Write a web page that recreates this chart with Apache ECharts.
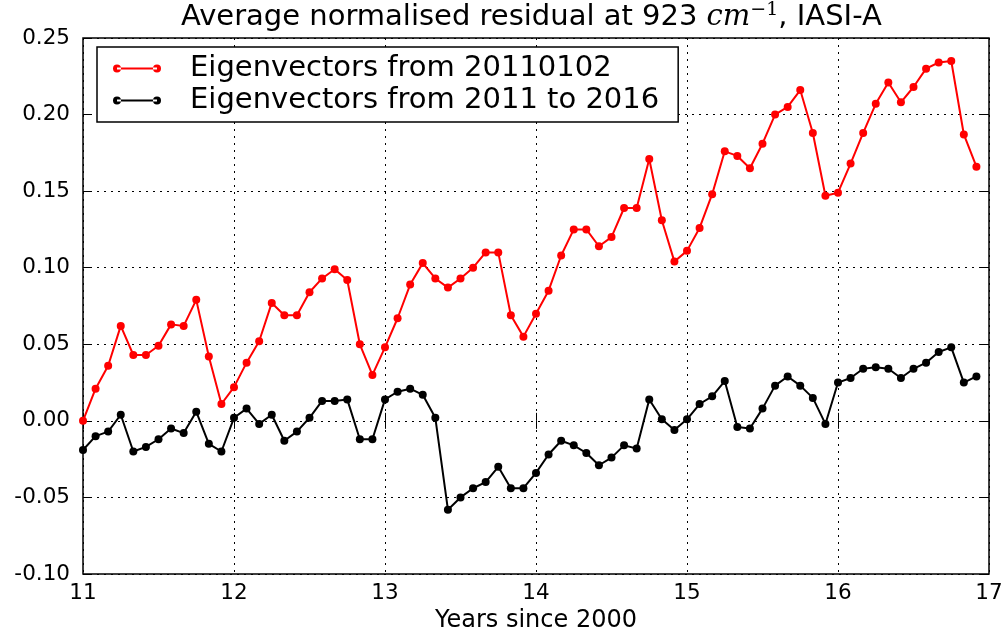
<!DOCTYPE html>
<html>
<head>
<meta charset="utf-8">
<script src="https://cdn.jsdelivr.net/npm/echarts@6/dist/echarts.min.js"></script>
<style>
  html, body { margin: 0; padding: 0; background: #fff; overflow: hidden; }
  #chart { width: 1006px; height: 627px; }
</style>
</head>
<body>
<div id="chart"></div>
<script>
// Monthly samples starting at year 11 (since 2000)
const startYear = 11;
const stepYears = 1 / 12;

const seriesNames = ['Eigenvectors from 20110102', 'Eigenvectors from 2011 to 2016'];

// Residual using eigenvectors from 20110102
const redValues = [
  0.000, 0.021, 0.036, 0.062, 0.043, 0.043, 0.049, 0.063, 0.062, 0.079, 0.042, 0.011,
  0.022, 0.038, 0.052, 0.077, 0.069, 0.069, 0.084, 0.093, 0.099, 0.092, 0.050, 0.030,
  0.048, 0.067, 0.089, 0.103, 0.093, 0.087, 0.093, 0.100, 0.110, 0.110, 0.069, 0.055,
  0.070, 0.085, 0.108, 0.125, 0.125, 0.114, 0.120, 0.139, 0.139, 0.171, 0.131, 0.104,
  0.111, 0.126, 0.148, 0.176, 0.173, 0.165, 0.181, 0.200, 0.205, 0.216, 0.188, 0.147,
  0.149, 0.168, 0.188, 0.207, 0.221, 0.208, 0.218, 0.230, 0.234, 0.235, 0.187, 0.166
];

// Residual using eigenvectors from 2011 to 2016
const blackValues = [
  -0.019, -0.010, -0.007, 0.004, -0.020, -0.017, -0.012, -0.005, -0.008, 0.006, -0.015, -0.020,
  0.002, 0.008, -0.002, 0.004, -0.013, -0.007, 0.002, 0.013, 0.013, 0.014, -0.012, -0.012,
  0.014, 0.019, 0.021, 0.017, 0.002, -0.058, -0.050, -0.044, -0.040, -0.030, -0.044, -0.044,
  -0.034, -0.022, -0.013, -0.016, -0.021, -0.029, -0.024, -0.016, -0.018, 0.014, 0.001, -0.006,
  0.001, 0.011, 0.016, 0.026, -0.004, -0.005, 0.008, 0.023, 0.029, 0.023, 0.015, -0.002,
  0.025, 0.028, 0.034, 0.035, 0.034, 0.028, 0.034, 0.038, 0.045, 0.048, 0.025, 0.029
];

const xTicks = [11, 12, 13, 14, 15, 16, 17];
const yTicks = [-0.10, -0.05, 0.00, 0.05, 0.10, 0.15, 0.20, 0.25];

function toPairs(values) {
  return values.map((v, i) => [startYear + i * stepYears, v]);
}

// Legend icon: a short line with a dot at each end
const legendIcon = 'path://M0,4a4,4 0 1,0 8,0a4,4 0 1,0 -8,0Z M4,3L44,3L44,5L4,5Z M40,4a4,4 0 1,0 8,0a4,4 0 1,0 -8,0Z';

const textFont = 'DejaVu Sans, sans-serif';

const gridLine = { show: true, lineStyle: { color: '#000', type: [2, 5], width: 1 } };
const innerTick = { show: true, inside: true, length: 8, lineStyle: { color: '#000', width: 1 } };

const chart = echarts.init(document.getElementById('chart'), null, { renderer: 'canvas' });

chart.setOption({
  animation: false,
  backgroundColor: '#fff',
  title: {
    text: 'Average normalised residual at 923 {it|cm}{sup|−1}, IASI-A',
    left: 181,
    top: 1,
    padding: 0,
    textStyle: {
      fontFamily: textFont,
      fontWeight: 'normal',
      fontSize: 29,
      color: '#000',
      rich: {
        it: { fontFamily: 'DejaVu Serif, serif', fontStyle: 'italic', fontSize: 29, color: '#000' },
        sup: { fontFamily: 'DejaVu Serif, serif', fontSize: 19, color: '#000', verticalAlign: 'top', padding: [0, 0, 14, 0] }
      }
    }
  },
  legend: {
    data: seriesNames,
    orient: 'vertical',
    left: 97,
    top: 47,
    padding: [7, 19, 7, 16],
    itemGap: 3,
    itemWidth: 48,
    itemHeight: 8,
    borderColor: '#000',
    borderWidth: 1.5,
    backgroundColor: '#fff',
    icon: legendIcon,
    textStyle: { fontFamily: textFont, fontSize: 29, lineHeight: 29, color: '#000', padding: [0, 0, 0, 24] }
  },
  grid: {
    left: 83,
    right: 17,
    top: 38,
    bottom: 53,
    containLabel: false,
    outerBoundsMode: 'none',
    show: true,
    borderColor: '#000',
    borderWidth: 1.5,
    backgroundColor: 'transparent'
  },
  xAxis: [
    {
      type: 'value',
      min: xTicks[0],
      max: xTicks[xTicks.length - 1],
      interval: 1,
      name: 'Years since 2000',
      nameLocation: 'middle',
      nameGap: 29,
      nameTextStyle: { fontFamily: textFont, fontSize: 24, color: '#000' },
      axisLine: { show: false },
      axisTick: innerTick,
      axisLabel: { fontFamily: textFont, fontSize: 21.5, color: '#000', margin: 8 },
      splitLine: gridLine
    },
    {
      type: 'value',
      position: 'top',
      min: xTicks[0],
      max: xTicks[xTicks.length - 1],
      interval: 1,
      axisLine: { show: false },
      axisTick: innerTick,
      axisLabel: { show: false },
      splitLine: { show: false }
    }
  ],
  yAxis: [
    {
      type: 'value',
      min: yTicks[0],
      max: yTicks[yTicks.length - 1],
      interval: 0.05,
      axisLine: { show: false },
      axisTick: innerTick,
      axisLabel: {
        fontFamily: textFont, fontSize: 21.5, color: '#000', margin: 13,
        formatter: v => v.toFixed(2)
      },
      splitLine: gridLine
    },
    {
      type: 'value',
      position: 'right',
      min: yTicks[0],
      max: yTicks[yTicks.length - 1],
      interval: 0.05,
      axisLine: { show: false },
      axisTick: innerTick,
      axisLabel: { show: false },
      splitLine: { show: false }
    }
  ],
  series: [
    {
      name: seriesNames[0],
      type: 'line',
      data: toPairs(redValues),
      color: '#ff0000',
      symbol: 'circle',
      symbolSize: 8,
      showSymbol: true,
      lineStyle: { width: 2, color: '#ff0000' },
      itemStyle: { color: '#ff0000' },
      z: 3
    },
    {
      name: seriesNames[1],
      type: 'line',
      data: toPairs(blackValues),
      color: '#000000',
      symbol: 'circle',
      symbolSize: 8,
      showSymbol: true,
      lineStyle: { width: 2, color: '#000000' },
      itemStyle: { color: '#000000' },
      z: 3
    }
  ]
});
</script>
</body>
</html>
